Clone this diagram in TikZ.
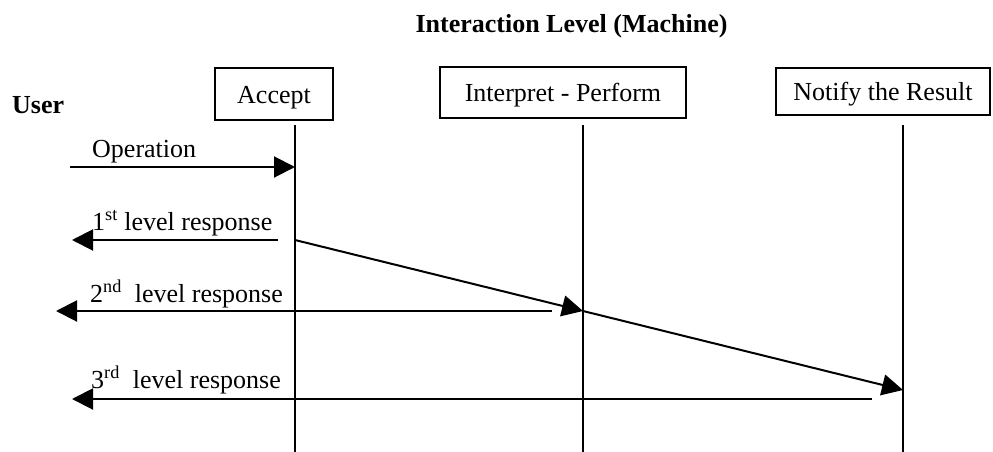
\documentclass[tikz,border=0pt]{standalone}
\usepackage{fontspec}
\setmainfont{Liberation Serif}
\usetikzlibrary{arrows.meta}
\tikzset{
  big/.style={font=\fontsize{26}{30}\selectfont},
  phase/.style={big,draw,line width=1.6pt,inner sep=0pt,text height=18pt,text depth=0pt},
  msg/.style={line width=2pt,-{Triangle[length=21pt,width=21pt]}},
  lbl/.style={big,anchor=base west,inner sep=0pt},
}
\begin{document}
\begin{tikzpicture}[x=1pt,y=-1pt]
\useasboundingbox (0,0) rectangle (993,452);
\node[big,anchor=base,inner sep=0pt] (title) at (571.5,33) {\textbf{Interaction Level (Machine)}};
\node[big,anchor=base west,inner sep=0pt] (user) at (12,113) {\textbf{User}};
\node[phase,minimum width=118pt,minimum height=52pt] (accept) at (274,94) {Accept};
\node[phase,minimum width=246pt,minimum height=51pt] (interp) at (563,92.5) {Interpret - Perform};
\node[phase,minimum width=214pt,minimum height=47pt] (notify) at (883,91.5) {Notify the Result};
% lifelines
\coordinate (A top) at (295,125); \coordinate (A bot) at (295,452);
\coordinate (I top) at (583,125); \coordinate (I bot) at (583,452);
\coordinate (N top) at (903,125); \coordinate (N bot) at (903,452);
\foreach \l in {A,I,N}
  \draw[line width=2pt] (\l\space top) -- (\l\space bot);
% messages
\coordinate (U1) at (70,167);   \coordinate (A1) at (295,167);
\coordinate (A2) at (295,240);  \coordinate (R1) at (278,240);  \coordinate (U2) at (72,240);
\coordinate (I3) at (583,311);  \coordinate (R2) at (552,311);  \coordinate (U3) at (56,311);
\coordinate (N4) at (903,390);
\coordinate (R3) at (872,399);  \coordinate (U4) at (72,399);
\draw[msg] (U1) -- (A1);
\draw[msg] (R1) -- (U2);
\draw[msg] (A2) -- (I3);
\draw[msg] (I3) -- (N4);
\draw[msg] (R2) -- (U3);
\draw[msg] (R3) -- (U4);
\node[lbl] (op) at (92,157) {Operation};
\node[lbl] (r1) at (92,230) {1\textsuperscript{st} level response};
\node[lbl] (r2) at (90,302) {2\textsuperscript{nd}\ \ level response};
\node[lbl] (r3) at (91,388) {3\textsuperscript{rd}\ \ level response};
\end{tikzpicture}
\end{document}
